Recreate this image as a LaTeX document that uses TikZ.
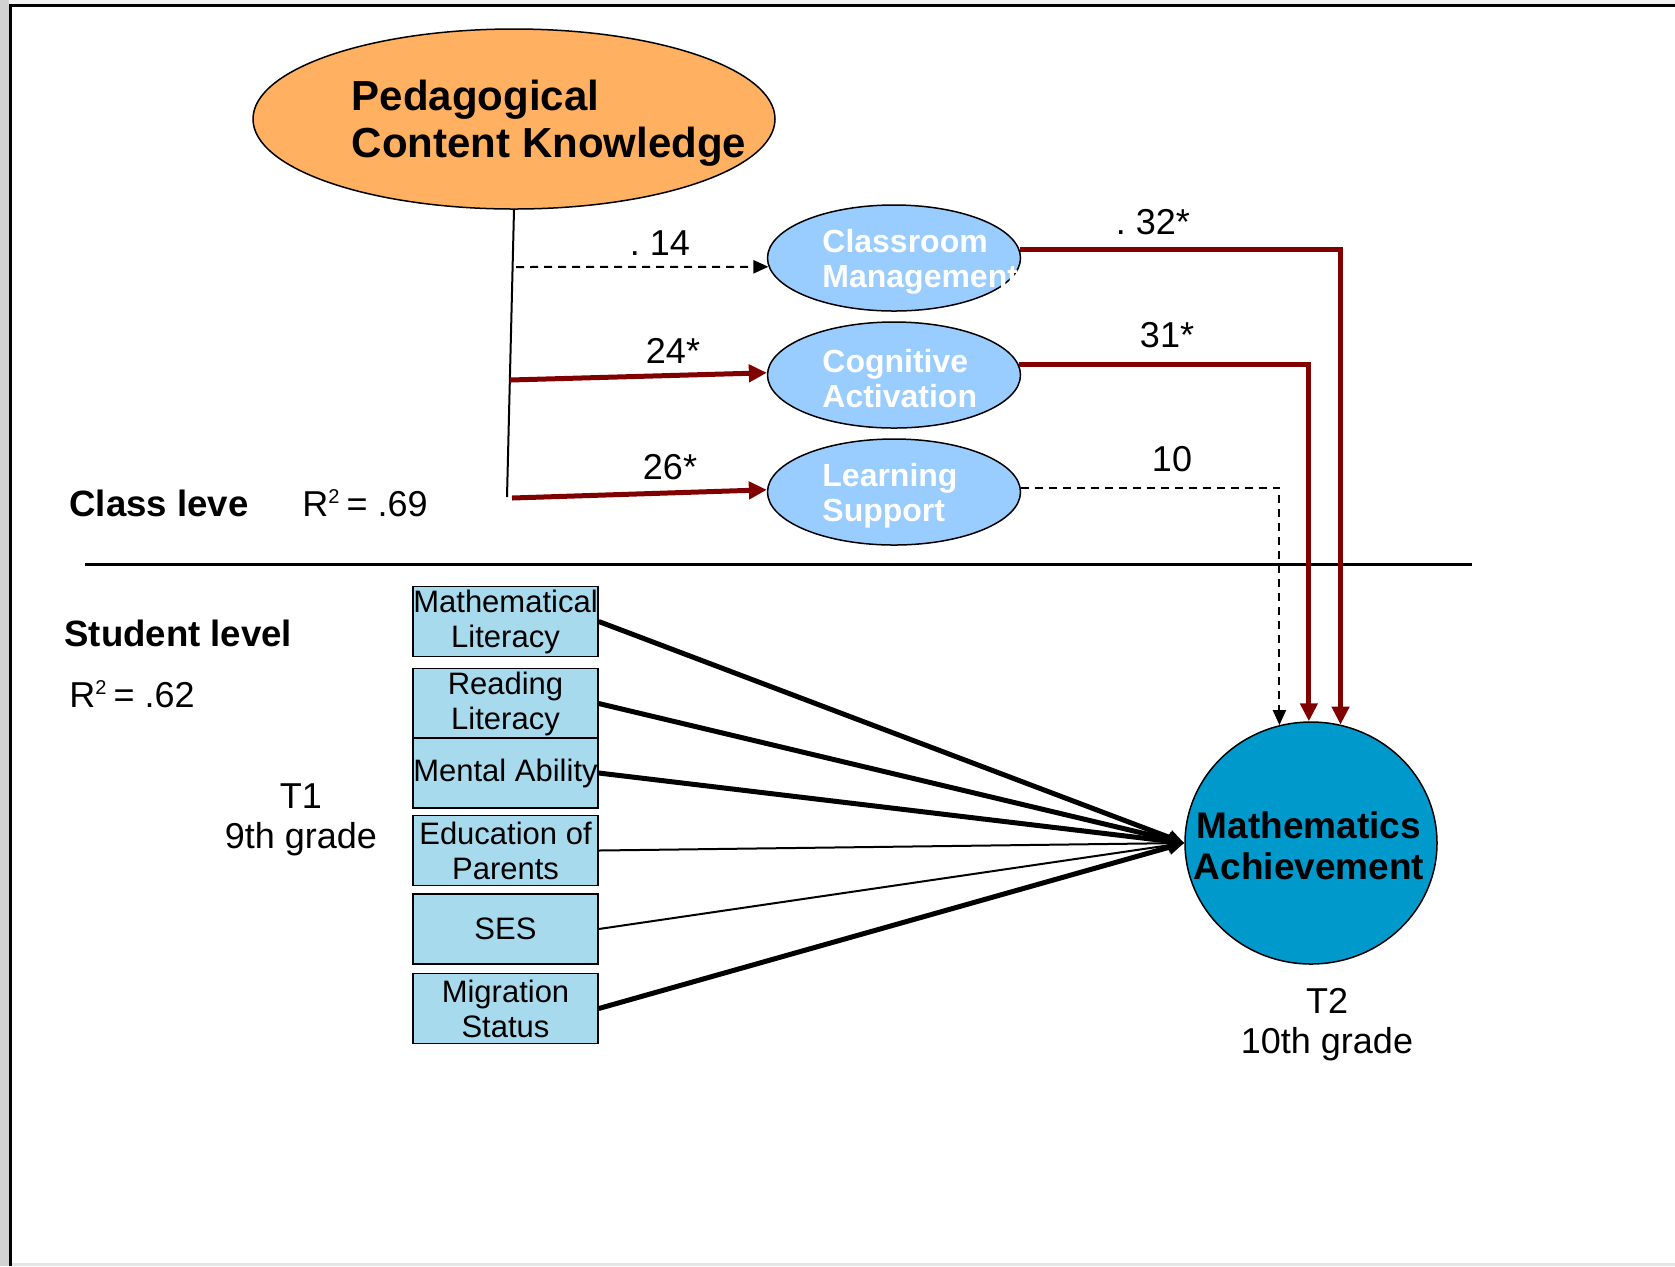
\documentclass[tikz,border=0pt]{standalone}
\usepackage{fontspec}
\setmainfont{Liberation Sans}
\usepackage{xcolor}
\definecolor{pckorange}{RGB}{255,176,96}
\definecolor{processblue}{RGB}{153,204,255}
\definecolor{indicatorblue}{RGB}{166,218,236}
\definecolor{outcomeblue}{RGB}{0,153,204}
\definecolor{pathred}{RGB}{128,0,0}
\usepackage{tikz}
\usetikzlibrary{shapes.geometric}
\usetikzlibrary{arrows.meta}
\newcommand{\fsize}[2]{\fontsize{#1}{#2}\selectfont}
\newcommand{\rsq}{R\textsuperscript{\fsize{10}{10}2}\,=}
\tikzset{
    latent/.style={draw, ellipse, line width=0.75pt, inner sep=0pt},
    knowledge/.style={latent, fill=pckorange, minimum width=261pt, minimum height=90pt},
    process/.style={latent, fill=processblue, minimum width=126.5pt, minimum height=53pt},
    process-text/.style={anchor=west, inner sep=0pt, align=left, text=white, font=\bfseries\fsize{16}{17.5}},
    indicator/.style={draw, rectangle, fill=indicatorblue, line width=0.75pt, minimum width=92.5pt, minimum height=35pt, inner sep=0pt, align=center, font=\fsize{15.5}{17.5}},
    outcome/.style={latent, fill=outcomeblue, minimum width=126pt, minimum height=121pt},
    outcome-text/.style={inner sep=0pt, align=center, font=\bfseries\fsize{18.5}{20.5}},
    coef/.style={inner sep=0pt, font=\fsize{18}{20}},
    level/.style={anchor=west, inner sep=0pt, font=\bfseries\fsize{18.3}{20}},
    sig/.style={pathred, line width=2.5pt, -{Triangle[length=9pt,width=8.5pt]}},
    nonsig/.style={black, line width=1pt, dash pattern=on 4pt off 3pt, -{Triangle[length=7.5pt,width=6.5pt]}},
    strong/.style={line width=2.5pt, -{Triangle[length=8pt,width=7pt]}},
    weak/.style={line width=1pt, -{Triangle[length=8pt,width=7pt]}}
}

\begin{document}
\begin{tikzpicture}[x=0.5pt, y=-0.5pt]
      \useasboundingbox (0,0) rectangle (1675,1266);
      % slide frame
      \fill[white] (0,0) rectangle (1675,1266);
      \fill[gray!10] (0,0) rectangle (1675,4);
      \fill[gray!35] (0,0) rectangle (9,1266);
      \fill[gray!20] (12,1263) rectangle (1675,1266);
      \draw[line width=1.5pt] (10.5,1266) -- (10.5,5.5) -- (1675,5.5);

      % class level
      \node[knowledge] (pck) at (514,119) {};
      \node[align=left, font=\bfseries\fsize{21}{23.5}] (pck-text) at (549,123) {Pedagogical\\Content Knowledge};

      \node[process] (cm) at (894,258) {};
      \node[process] (ca) at (894,375) {};
      \node[process] (ls) at (894,492) {};
      \node[process-text] (cm-text) at (822,262) {Classroom\\Management};
      \node[process-text] (ca-text) at (822,379) {Cognitive\\Activation};
      \node[process-text] (ls-text) at (822,496) {Learning\\Support};

      \node[level] (class-level) at (69,503) {Class leve};
      \node[coef, anchor=west] (class-r2) at (302,503) {\rsq{} .69};

      \coordinate (trunk-end) at (507,497);
      \coordinate (pck-cm) at (516,267);
      \coordinate (pck-ca) at (510,380);
      \coordinate (pck-ls) at (512,498);

      \draw[line width=1pt] (pck.south) -- (trunk-end);
      \draw[nonsig] (pck-cm) -- (cm.184);
      \draw[sig] (pck-ca) -- (ca.179);
      \draw[sig] (pck-ls) -- (ls.179);

      \node[coef] (coef-pck-cm) at (660,243) {.\ 14};
      \node[coef] (coef-pck-ca) at (673,351) {24*};
      \node[coef] (coef-pck-ls) at (670,467) {26*};

      \draw[line width=1.5pt] (85,564) -- (1472,564);

      % student level
      \node[level] (student-level) at (64,633) {Student level};
      \node[coef, anchor=west] (student-r2) at (69,694) {\rsq{} .62};
      \node[coef, align=center] (t1) at (301,820) {T1\\9th grade};

      \node[indicator] (math-lit) at (505.5,621.5) {Mathematical\\Literacy};
      \node[indicator] (read-lit) at (505.5,703.5) {Reading\\Literacy};
      \node[indicator] (mental) at (505.5,773) {Mental Ability};
      \node[indicator] (edu-parents) at (505.5,850.5) {Education of\\Parents};
      \node[indicator] (ses) at (505.5,929) {SES};
      \node[indicator] (migration) at (505.5,1008.5) {Migration\\Status};

      \node[outcome] (math-ach) at (1311,843) {};
      \node[outcome-text] (math-ach-text) at (1309,846) {Mathematics\\Achievement};
      \node[coef, align=center] (t2) at (1327,1025) {T2\\10th grade};

      \draw[strong] (math-lit.east) -- (math-ach.west);
      \draw[strong] (read-lit.east) -- (math-ach.west);
      \draw[strong] (mental.east) -- (math-ach.west);
      \draw[weak] (edu-parents.east) -- (math-ach.west);
      \draw[weak] (ses.east) -- (math-ach.west);
      \draw[strong] (migration.east) -- (math-ach.west);

      % cross-level paths
      \draw[sig] (cm.4) -| (math-ach.76);
      \draw[sig] (ca.5) -| (math-ach.91);
      \draw[nonsig] (ls.2) -| (math-ach.105);

      \node[coef] (coef-cm-ach) at (1153,222) {.\ 32*};
      \node[coef] (coef-ca-ach) at (1167,335) {31*};
      \node[coef] (coef-ls-ach) at (1172,459) {10};
    \end{tikzpicture}
\end{document}
